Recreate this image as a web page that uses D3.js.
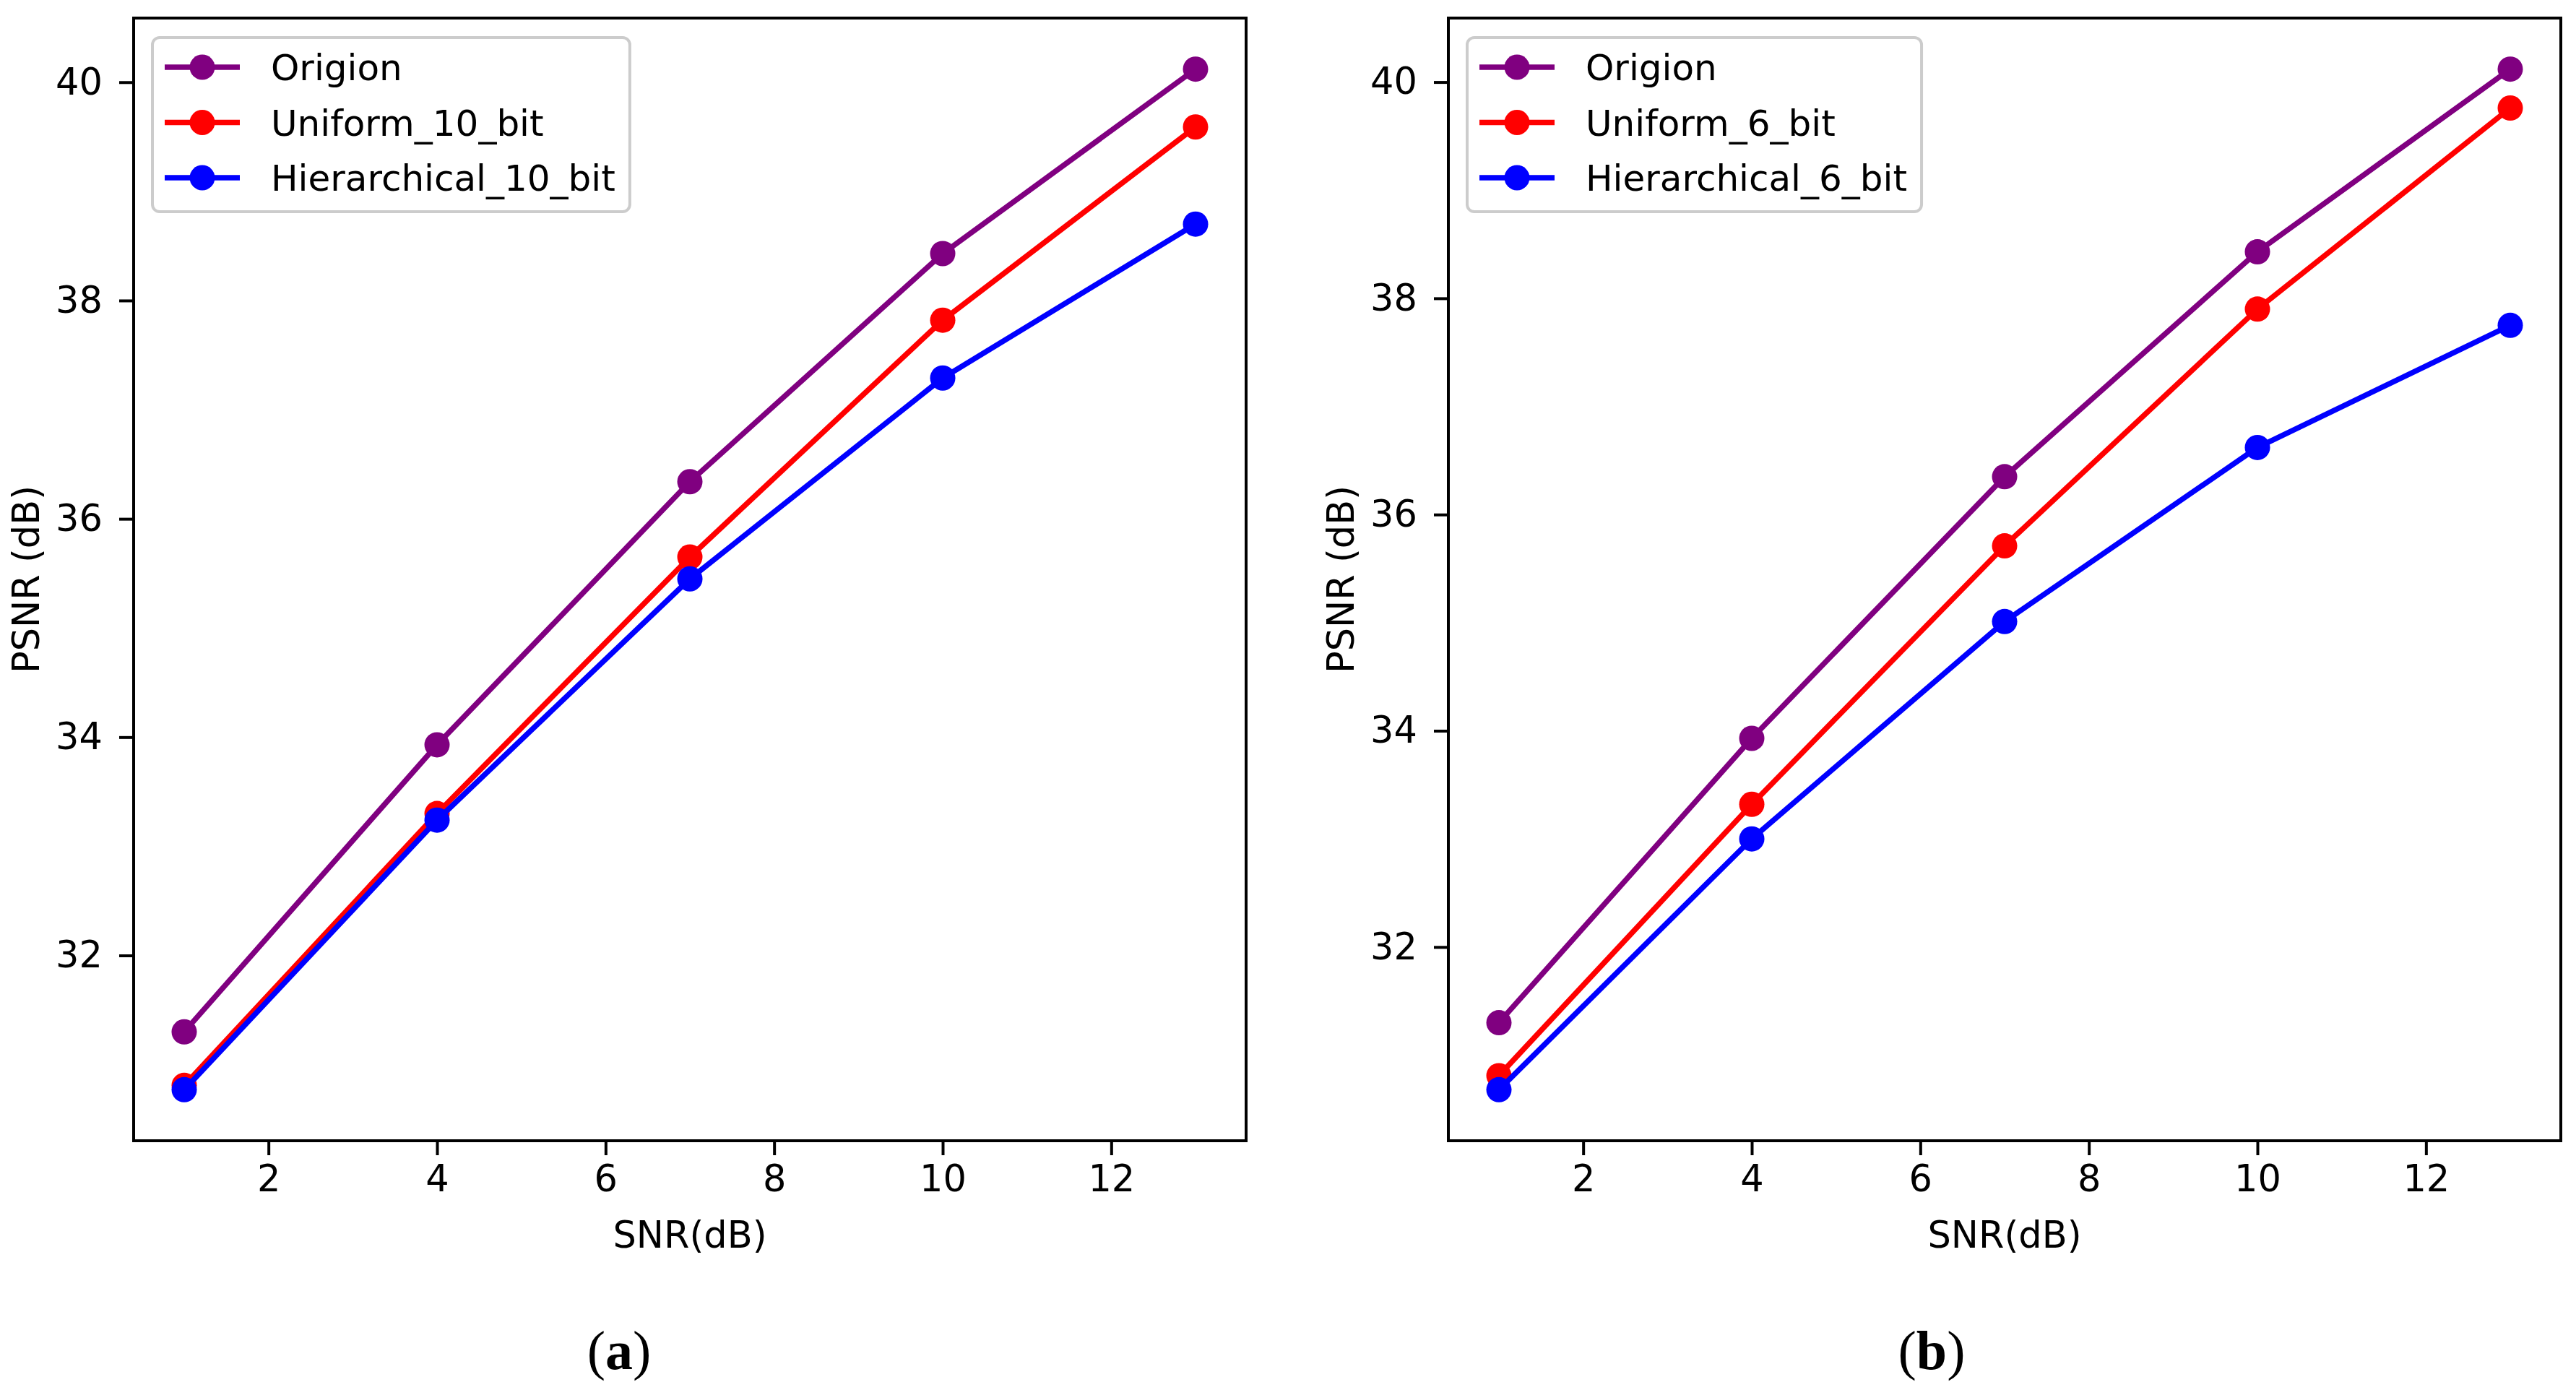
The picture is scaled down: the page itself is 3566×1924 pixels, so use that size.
<!DOCTYPE html>
<html>
<head>
<meta charset="utf-8">
<style>
  *{margin:0;padding:0;box-sizing:border-box}
  body{background:#fff;width:3566px;height:1924px;overflow:hidden}
  svg{display:block}
  text{font-family:"DejaVu Sans",sans-serif;fill:#000}
</style>
</head>
<body>
<svg id="fig"></svg>
<script src="https://cdn.jsdelivr.net/npm/d3@7/dist/d3.min.js"></script>
<script>
// values
const snr = [1, 4, 7, 10, 13];
const origionA  = [31.30, 33.93, 36.34, 38.43, 40.12];
const uniform10 = [30.81, 33.30, 35.65, 37.82, 39.59];
const hier10    = [30.77, 33.24, 35.45, 37.29, 38.70];
const origionB  = [31.30, 33.93, 36.35, 38.43, 40.12];
const uniform6  = [30.81, 33.32, 35.71, 37.90, 39.76];
const hier6     = [30.68, 33.00, 35.01, 36.62, 37.75];
const xTicks = [2, 4, 6, 8, 10, 12];
const yTicks = [32, 34, 36, 38, 40];
const namesA = ['Origion', 'Uniform_10_bit', 'Hierarchical_10_bit'];
const namesB = ['Origion', 'Uniform_6_bit', 'Hierarchical_6_bit'];
const colors = ['#800080', '#ff0000', '#0000ff'];
const captions = ['a', 'b'];

const W = 3566, H = 1924;
const FS = 51;
const MR = 17.5; // marker radius
const svg = d3.select('#fig').attr('width', W).attr('height', H);

const panels = [
  {left: 185, series: [origionA, uniform10, hier10], names: namesA, cap: captions[0], capX: 857, ylabX: 36},
  {left: 2005, series: [origionB, uniform6, hier6], names: namesB, cap: captions[1], capX: 2674, ylabX: 1856},
];
const PW = 1540, plotTop = 25, plotBottom = 1579;

// matplotlib style 5% margins
function padded(ext){
  const m = (ext[1] - ext[0]) * 0.05;
  return [ext[0] - m, ext[1] + m];
}

panels.forEach(p => {
  const g = svg.append('g');
  const x = d3.scaleLinear().domain(padded(d3.extent(snr))).range([p.left, p.left + PW]);
  const y = d3.scaleLinear().domain(padded(d3.extent(p.series.flat()))).range([plotBottom, plotTop]);

  const line = d3.line().x((d, i) => x(snr[i])).y(d => y(d));
  p.series.forEach((s, k) => {
    g.append('path').datum(s).attr('d', line)
      .attr('fill', 'none').attr('stroke', colors[k])
      .attr('stroke-width', 7.5).attr('stroke-linejoin', 'round').attr('stroke-linecap', 'square');
    g.selectAll(null).data(s).enter().append('circle')
      .attr('cx', (d, i) => x(snr[i])).attr('cy', d => y(d))
      .attr('r', MR).attr('fill', colors[k]);
  });

  // frame
  g.append('rect').attr('x', p.left).attr('y', plotTop)
    .attr('width', PW).attr('height', plotBottom - plotTop)
    .attr('fill', 'none').attr('stroke', '#000').attr('stroke-width', 4);

  const xa = g.append('g').attr('transform', `translate(0,${plotBottom})`)
    .call(d3.axisBottom(x).tickValues(xTicks).tickSize(20).tickPadding(14).tickFormat(d3.format('d')));
  const ya = g.append('g').attr('transform', `translate(${p.left},0)`)
    .call(d3.axisLeft(y).tickValues(yTicks).tickSize(20).tickPadding(23).tickFormat(d3.format('d')));
  [xa, ya].forEach(a => {
    a.select('.domain').remove();
    a.selectAll('line').attr('stroke', '#000').attr('stroke-width', 4);
    a.selectAll('text').attr('font-size', FS).attr('font-family', '"DejaVu Sans",sans-serif').attr('fill', '#000');
  });

  g.append('text').attr('x', p.left + PW / 2).attr('y', 1727)
    .attr('text-anchor', 'middle').attr('font-size', FS).text('SNR(dB)');
  g.append('text').attr('transform', `translate(${p.ylabX},${(plotTop + plotBottom) / 2}) rotate(-90)`)
    .attr('text-anchor', 'middle').attr('dy', '0.36em').attr('font-size', FS).text('PSNR (dB)');

  // legend
  const lx = p.left + 26, ly = 52, rowH = 76.5;
  const lg = g.append('g');
  const box = lg.append('rect').attr('x', lx).attr('y', ly).attr('height', 241)
    .attr('rx', 10).attr('fill', '#fff').attr('fill-opacity', 0.8)
    .attr('stroke', '#cccccc').attr('stroke-width', 4);
  let maxW = 0;
  p.names.forEach((n, k) => {
    const cy = ly + 41 + k * rowH;
    lg.append('line').attr('x1', lx + 17).attr('x2', lx + 121).attr('y1', cy).attr('y2', cy)
      .attr('stroke', colors[k]).attr('stroke-width', 7.5);
    lg.append('circle').attr('cx', lx + 69).attr('cy', cy).attr('r', MR).attr('fill', colors[k]);
    const t = lg.append('text').attr('x', lx + 164).attr('y', cy).attr('dy', '0.36em')
      .attr('font-size', 50).text(n);
    maxW = Math.max(maxW, t.node().getComputedTextLength());
  });
  box.attr('width', 164 + maxW + 20);

  // caption
  g.append('text').attr('x', p.capX).attr('y', 1895).attr('text-anchor', 'middle')
    .attr('font-size', 76)
    .style('font-family', '"Liberation Serif",serif')
    .html(`(<tspan font-weight="bold">${p.cap}</tspan>)`);
});
</script>
</body>
</html>
